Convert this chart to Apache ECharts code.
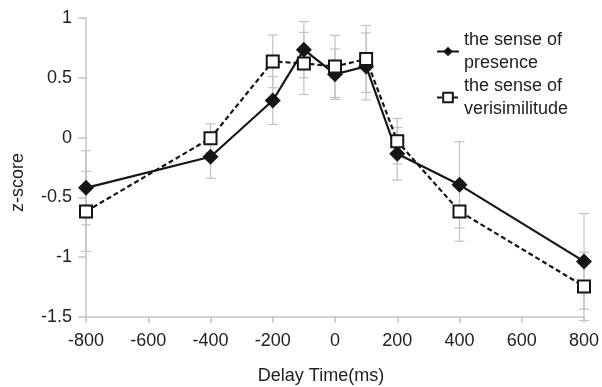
<!DOCTYPE html>
<html>
<head>
<meta charset="utf-8">
<script src="https://cdn.jsdelivr.net/npm/echarts@6/dist/echarts.min.js"></script>
<style>
  html, body { margin: 0; padding: 0; background: #fff; }
  #chart { width: 602px; height: 387px; }
</style>
</head>
<body>
<div id="chart"></div>
<script>
// delay time (ms) on the x axis
const delays = [-800, -400, -200, -100, 0, 100, 200, 400, 800];

// mean z-scores and error-bar half widths
const presence = [-0.42, -0.16, 0.31, 0.735, 0.53, 0.595, -0.135, -0.395, -1.035];
const presenceErr = [0.31, 0.18, 0.2, 0.235, 0.21, 0.28, 0.22, 0.36, 0.4];
const verisim = [-0.617, -0.005, 0.637, 0.62, 0.595, 0.657, -0.03, -0.617, -1.244];
const verisimErr = [0.335, 0.12, 0.22, 0.26, 0.26, 0.28, 0.19, 0.25, 0.285];

const seriesNames = ["the sense of presence", "the sense of verisimilitude"];

const font = "Liberation Sans, Arial, sans-serif";
const axisGray = "#c4c4c4";

const toPoints = (ys) => delays.map((x, i) => [x, ys[i]]);
const toBars = (ys, errs) => delays.map((x, i) => [x, ys[i] - errs[i], ys[i] + errs[i]]);

// vertical error bar with small caps
const renderErrorBar = (params, api) => {
  const x = api.value(0);
  const lo = api.coord([x, api.value(1)]);
  const hi = api.coord([x, api.value(2)]);
  const w = 5;
  const style = { stroke: "#c2c2c2", lineWidth: 1.2 };
  return {
    type: "group",
    children: [
      { type: "line", shape: { x1: lo[0], y1: lo[1], x2: hi[0], y2: hi[1] }, style },
      { type: "line", shape: { x1: lo[0] - w, y1: lo[1], x2: lo[0] + w, y2: lo[1] }, style },
      { type: "line", shape: { x1: hi[0] - w, y1: hi[1], x2: hi[0] + w, y2: hi[1] }, style },
    ],
  };
};

const chart = echarts.init(document.getElementById("chart"), null, { renderer: "canvas" });

const option = {
  animation: false,
  backgroundColor: "#fff",
  grid: { left: 86, right: 18, top: 18, bottom: 70, containLabel: false, outerBoundsMode: "none" },
  legend: {
    data: seriesNames,
    orient: "vertical",
    left: 431,
    top: 12,
    itemWidth: 22,
    itemHeight: 12,
    itemGap: -23,
    textStyle: {
      fontFamily: font,
      fontSize: 18,
      color: "#222",
      lineHeight: 23,
      padding: [23, 0, 0, 0],
    },
    formatter: (name) => name.replace(" of ", " of\n"),
  },
  xAxis: {
    type: "value",
    min: -800,
    max: 800,
    interval: 200,
    name: "Delay Time(ms)",
    nameLocation: "middle",
    nameGap: 50,
    nameTextStyle: { fontFamily: font, fontSize: 18, color: "#222", padding: [0, 28, 0, 0] },
    axisLine: { show: true, onZero: false, lineStyle: { color: axisGray, width: 1.5 } },
    axisTick: { show: true, length: 6, lineStyle: { color: axisGray, width: 1.5 } },
    axisLabel: { fontFamily: font, fontSize: 18, color: "#222", margin: 15 },
    splitLine: { show: false },
  },
  yAxis: {
    type: "value",
    min: -1.5,
    max: 1,
    interval: 0.5,
    name: "z-score",
    nameLocation: "middle",
    nameGap: 59,
    nameTextStyle: { fontFamily: font, fontSize: 18, color: "#222", padding: [0, 30, 0, 0] },
    axisLine: { show: true, onZero: false, lineStyle: { color: axisGray, width: 1.5 } },
    axisTick: { show: true, length: 8, lineStyle: { color: axisGray, width: 1.5 } },
    axisLabel: { fontFamily: font, fontSize: 18, color: "#222", margin: 14 },
    splitLine: { show: false },
  },
  series: [
    {
      type: "custom",
      silent: true,
      z: 1,
      renderItem: renderErrorBar,
      data: toBars(presence, presenceErr),
    },
    {
      type: "custom",
      silent: true,
      z: 1,
      renderItem: renderErrorBar,
      data: toBars(verisim, verisimErr),
    },
    {
      name: seriesNames[0],
      type: "line",
      z: 3,
      data: toPoints(presence),
      symbol: "diamond",
      symbolSize: 16,
      itemStyle: { color: "#151515", borderWidth: 0 },
      lineStyle: { color: "#151515", width: 2.2, type: "solid" },
    },
    {
      name: seriesNames[1],
      type: "line",
      z: 4,
      data: toPoints(verisim),
      symbol: "rect",
      symbolSize: 12,
      itemStyle: { color: "#fff", borderColor: "#151515", borderWidth: 2 },
      lineStyle: { color: "#151515", width: 2.2, type: [5, 3] },
    },
  ],
};

chart.setOption(option);
</script>
</body>
</html>
